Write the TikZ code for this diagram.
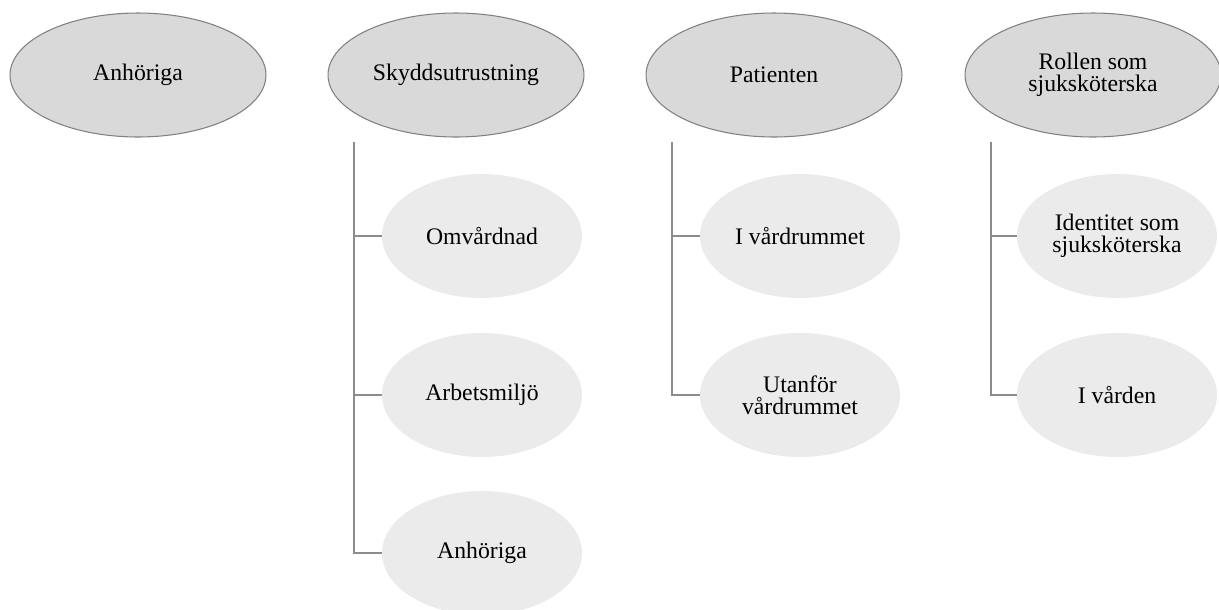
\documentclass[tikz,border=0pt]{standalone}
\usepackage{fontspec}
\setmainfont{Liberation Serif}
\usepackage{tikz}
\usetikzlibrary{shapes.geometric}
\usetikzlibrary{calc}

\definecolor{huvudfyll}{HTML}{D9D9D9}
\definecolor{underfyll}{HTML}{EBEBEB}
\definecolor{linjegra}{HTML}{8C8C8C}

\tikzset{
	huvud/.style={ellipse, draw=black!50, line width=0.6pt, fill=huvudfyll, inner sep=0pt,
		minimum width=5.12cm, minimum height=2.48cm, align=center, font=\fontsize{13.5}{12.5}\selectfont},
	under/.style={ellipse, fill=underfyll, inner sep=0pt,
		minimum width=4cm, minimum height=2.48cm, align=center, font=\fontsize{13.5}{12.5}\selectfont},
	gren/.style={draw=linjegra, line width=1.5pt}
}

\begin{document}
\begin{tikzpicture}[x=0.02cm, y=-0.02cm]
		\useasboundingbox (0,0) rectangle (1219,609);
		% huvudteman
		\node[huvud] (anh) at (138,75) {Anhöriga};
		\node[huvud] (skydd) at (456,75) {Skyddsutrustning};
		\node[huvud] (pat) at (774,75) {Patienten};
		\node[huvud] (roll) at (1093,75) {Rollen som\\sjuksköterska};
		% subteman
		\node[under] (omv) at (482,236) {Omvårdnad};
		\node[under] (arb) at (482,395) {Arbetsmiljö};
		\node[under] (anh2) at (482,553) {Anhöriga};
		\node[under] (ivr) at (800,236) {I vårdrummet};
		\node[under] (utv) at (800,395) {Utanför\\vårdrummet};
		\node[under] (ident) at (1117,236) {Identitet som\\sjuksköterska};
		\node[under] (ivard) at (1117,395) {I vården};
		%\coordinate (skydd-rot) at (skydd.south);
		\coordinate (skydd-rot) at ($(skydd.south)+(-102,4)$);
		\coordinate (pat-rot) at ($(pat.south)+(-102,4)$);
		\coordinate (roll-rot) at ($(roll.south)+(-102,4)$);
		\path[gren]
		(skydd-rot) |- (omv.west)
		(skydd-rot) |- (arb.west)
		(skydd-rot) |- (anh2.west)
		(pat-rot) |- (ivr.west)
		(pat-rot) |- (utv.west)
		(roll-rot) |- (ident.west)
		(roll-rot) |- (ivard.west);
		\end{tikzpicture}
\end{document}
